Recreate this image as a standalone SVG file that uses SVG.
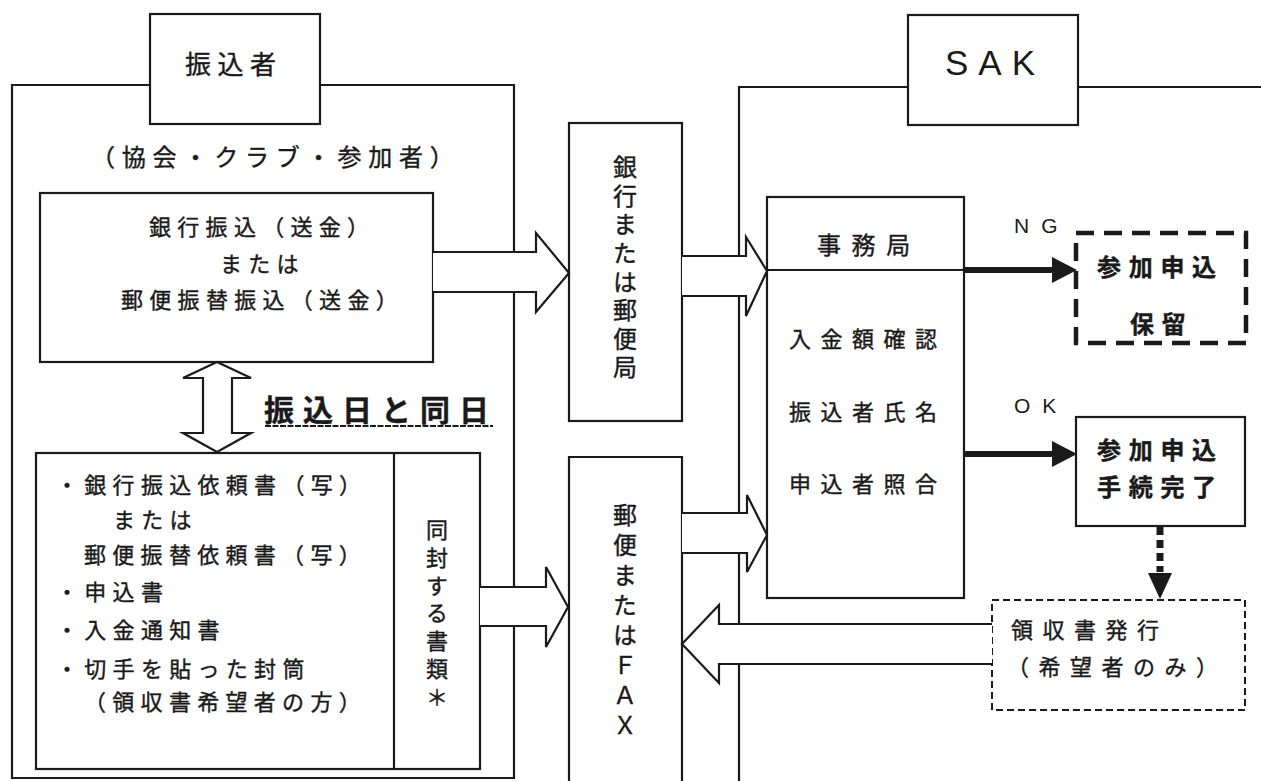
<svg xmlns="http://www.w3.org/2000/svg" width="1261" height="781" viewBox="0 0 1261 781">
<style>
.ln{fill:none;stroke:#1a1a1a;stroke-width:2.2}
.box{fill:#fff;stroke:#1a1a1a;stroke-width:2.2}
.fat{fill:#fff;stroke:#1a1a1a;stroke-width:2.2;stroke-linejoin:miter}
.jp{font-family:"Noto Sans CJK JP","Noto Sans CJK SC",sans-serif;fill:#1a1a1a;stroke:#1a1a1a;stroke-width:0.4;dominant-baseline:central}
.lat{font-family:"Liberation Sans",Arial,sans-serif;fill:#1a1a1a;dominant-baseline:central}
.t22{font-size:22px;letter-spacing:6.3px}
.t22w{font-size:22px;letter-spacing:9.5px}
.bold24{font-size:24px;font-weight:bold;letter-spacing:7.7px}
.vert{writing-mode:vertical-rl;text-orientation:upright}
.thick{fill:none;stroke:#1a1a1a;stroke-width:6}
.head{fill:#1a1a1a;stroke:none}
</style>
<rect width="1261" height="781" fill="#fff"/>

<g id="frame-furikomisha">
  <path class="ln" d="M150,85 H12 V778 H514 V85 H320"/>
</g>
<g id="frame-sak">
  <path class="ln" d="M908,87 H739 V781"/>
  <path class="ln" d="M1078,87 H1261"/>
</g>

<g id="node-furikomisha">
  <rect class="box" x="150" y="14" width="170" height="110"/>
  <text class="jp" x="185" y="62" style="font-size:26px;letter-spacing:6.5px">振込者</text>
</g>
<g id="label-members">
  <text class="jp" x="91" y="155" style="font-size:24px;letter-spacing:6.8px">（協会・クラブ・参加者）</text>
</g>

<g id="node-remit">
  <rect class="box" x="40" y="193" width="393" height="169"/>
  <text class="jp t22" x="149" y="225">銀行振込（送金）</text>
  <text class="jp t22" x="220" y="262">または</text>
  <text class="jp t22" x="121" y="298">郵便振替振込（送金）</text>
</g>

<g id="label-sameday">
  <text class="jp" x="264" y="408" style="font-size:30px;font-weight:bold;letter-spacing:9px">振込日と同日</text>
  <line x1="265" y1="426" x2="493" y2="426" stroke="#1a1a1a" stroke-width="2" stroke-dasharray="6,1.5"/>
</g>

<g id="node-documents">
  <rect class="box" x="36" y="453" width="444" height="316"/>
  <line class="ln" x1="394" y1="453" x2="394" y2="769"/>
  <text class="jp t22" x="56" y="483">・銀行振込依頼書（写）</text>
  <text class="jp t22" x="113" y="518">または</text>
  <text class="jp t22" x="84" y="553">郵便振替依頼書（写）</text>
  <text class="jp t22" x="56" y="590">・申込書</text>
  <text class="jp t22" x="56" y="628">・入金通知書</text>
  <text class="jp t22" x="56" y="667">・切手を貼った封筒</text>
  <text class="jp t22" x="84" y="700">（領収書希望者の方）</text>
  <text class="jp vert" x="437" y="519" style="font-size:22px;letter-spacing:5.7px">同封する書類＊</text>
</g>

<g id="node-bank">
  <rect class="box" x="569" y="123" width="113" height="298"/>
  <text class="jp vert" x="625" y="155" style="font-size:24px;letter-spacing:4.6px">銀行または郵便局</text>
</g>

<g id="node-mail-fax">
  <path class="box" d="M569,782 V457 H682 V782"/>
  <text class="jp vert" x="625" y="503" style="font-size:24px;letter-spacing:6px">郵便またはＦＡＸ</text>
</g>

<g id="node-sak">
  <rect class="box" x="908" y="15" width="170" height="110"/>
  <text class="lat" x="945" y="62" style="font-size:35px;letter-spacing:10px">SAK</text>
</g>

<g id="node-office">
  <rect class="box" x="767" y="197" width="197" height="401"/>
  <line class="ln" x1="767" y1="270" x2="964" y2="270"/>
  <text class="jp" x="817" y="243" style="font-size:24px;letter-spacing:10.6px">事務局</text>
  <text class="jp t22w" x="789" y="337">入金額確認</text>
  <text class="jp t22w" x="789" y="410">振込者氏名</text>
  <text class="jp t22w" x="789" y="482">申込者照合</text>
</g>

<g id="node-hold">
  <rect x="1076" y="233" width="170" height="110" fill="#fff" stroke="#1a1a1a" stroke-width="4.5" stroke-dasharray="18,10"/>
  <text class="jp bold24" x="1097" y="265">参加申込</text>
  <text class="jp bold24" x="1130" y="322">保留</text>
</g>

<g id="node-complete">
  <rect class="box" x="1076" y="417" width="169" height="109"/>
  <text class="jp bold24" x="1097" y="448">参加申込</text>
  <text class="jp bold24" x="1097" y="485">手続完了</text>
</g>

<g id="node-receipt">
  <rect x="992" y="600" width="253" height="110" fill="#fff" stroke="#1a1a1a" stroke-width="2" stroke-dasharray="7,4"/>
  <text class="jp t22w" x="1011" y="628">領収書発行</text>
  <text class="jp t22w" x="1007" y="665">（希望者のみ）</text>
</g>

<g id="connectors">
  <path class="fat" d="M433,252 H536 V233 L569,273 L536,312 V292 H433"/>
  <path class="fat" d="M480,587 H546 V567 L568,607 L546,647 V626 H480"/>
  <path class="fat" d="M682,256 H746 V237 L767,271 L746,316 V296 H682"/>
  <path class="fat" d="M682,513 H747 V495 L767,535 L747,572 V553 H682"/>
  <path class="fat" d="M992,624 H719 V605 L682,644 L719,683 V664 H992"/>
  <path class="fat" d="M217,362 L251,378 H232 V433 H251 L217,452 L183,433 H203 V378 H183 Z"/>
  <line class="thick" x1="965" y1="270" x2="1055" y2="270"/>
  <polygon class="head" points="1052,257 1077,270 1052,283"/>
  <text class="lat" x="1014" y="225" style="font-size:21px;letter-spacing:12px">NG</text>
  <line class="thick" x1="965" y1="454" x2="1055" y2="454"/>
  <polygon class="head" points="1052,441 1077,454 1052,467"/>
  <text class="lat" x="1014" y="405" style="font-size:21px;letter-spacing:12px">OK</text>
  <line x1="1160" y1="527" x2="1160" y2="572" stroke="#1a1a1a" stroke-width="7" stroke-dasharray="8,5"/>
  <polygon class="head" points="1148,573 1172,573 1160,599"/>
</g>
</svg>
